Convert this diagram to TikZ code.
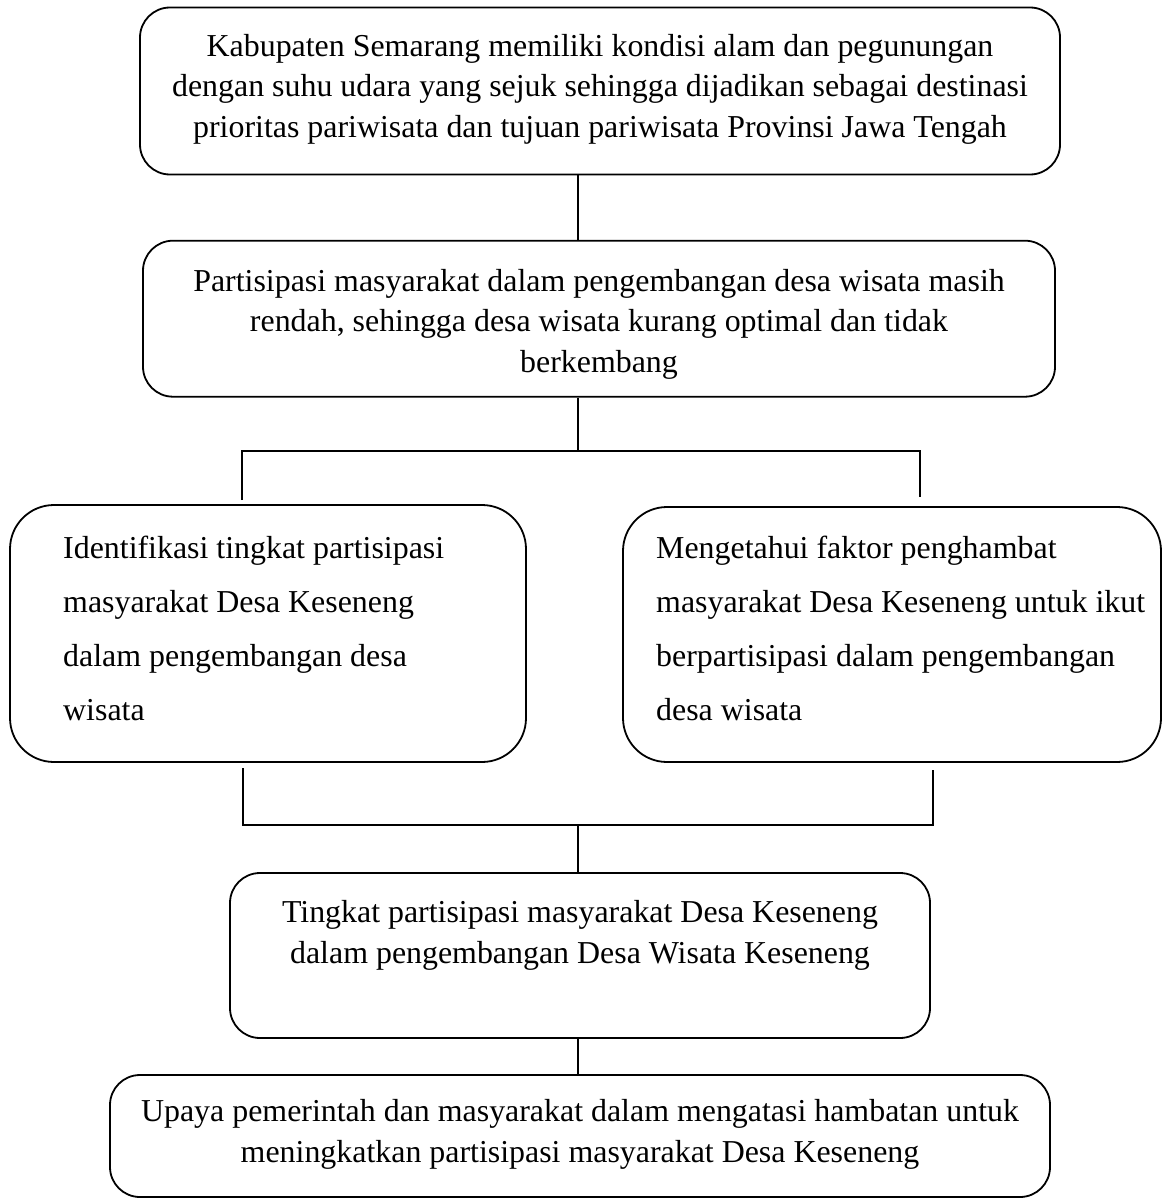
\documentclass[tikz,border=0pt]{standalone}
\usepackage{fontspec}
\setmainfont{Liberation Serif}
\begin{document}
\begin{tikzpicture}[x=1pt,y=-1pt,
  box/.style={draw, line width=1.8pt, inner sep=0pt, rounded corners=30pt},
  bigbox/.style={box, rounded corners=44pt},
  tcenter/.style={inner sep=0pt, align=center, anchor=base, font=\fontsize{31.9}{40.5}\selectfont},
  tleft/.style={inner sep=0pt, align=left, anchor=base west, font=\fontsize{31.9}{54}\selectfont},
  conn/.style={line width=1.8pt}]
\useasboundingbox (0,0) rectangle (1163,1199);
% boxes
\node[box, minimum width=920pt, minimum height=167pt] (b1) at (600,91) {};
\node[box, minimum width=912pt, minimum height=156pt] (b2) at (599,318.7) {};
\node[bigbox, minimum width=516pt, minimum height=257pt] (b3) at (268,633.5) {};
\node[bigbox, minimum width=538pt, minimum height=255pt] (b4) at (892,634.5) {};
\node[box, minimum width=700pt, minimum height=165pt] (b5) at (580,955.5) {};
\node[box, minimum width=940pt, minimum height=122pt] (b6) at (580,1136) {};
% texts (anchor base = baseline of the last line)
\node[tcenter] (t1) at (600,137) {Kabupaten Semarang memiliki kondisi alam dan pegunungan\\dengan suhu udara yang sejuk sehingga dijadikan sebagai destinasi\\prioritas pariwisata dan tujuan pariwisata Provinsi Jawa Tengah};
\node[tcenter] (t2) at (599,372) {Partisipasi masyarakat dalam pengembangan desa wisata masih\\rendah, sehingga desa wisata kurang optimal dan tidak\\berkembang};
\node[tleft] (t3) at (63,720) {Identifikasi tingkat partisipasi\\masyarakat Desa Keseneng\\dalam pengembangan desa\\wisata};
\node[tleft] (t4) at (656,720) {Mengetahui faktor penghambat\\masyarakat Desa Keseneng untuk ikut\\berpartisipasi dalam pengembangan\\desa wisata};
\node[tcenter] (t5) at (580,963) {Tingkat partisipasi masyarakat Desa Keseneng\\dalam pengembangan Desa Wisata Keseneng};
\node[tcenter] (t6) at (580,1162) {Upaya pemerintah dan masyarakat dalam mengatasi hambatan untuk\\meningkatkan partisipasi masyarakat Desa Keseneng};
% connector coordinates
\coordinate (cx) at (578,0);
\coordinate (hl) at (242,450.7);
\coordinate (hr) at (920,450.7);
\coordinate (sl) at (242,500);
\coordinate (sr) at (920,497);
\coordinate (ll) at (243,825);
\coordinate (lr) at (933,825);
\coordinate (ul) at (243,768);
\coordinate (ur) at (933,770);
% connectors
\draw[conn] (b1.south -| cx) -- (b2.north -| cx);
\draw[conn] (b2.south -| cx) -- (hl -| cx);
\draw[conn] (sl) -- (hl) -- (hr) -- (sr);
\draw[conn] (ul) -- (ll) -- (lr) -- (ur);
\draw[conn] (ll -| cx) -- (b5.north -| cx);
\draw[conn] (b5.south -| cx) -- (b6.north -| cx);
\end{tikzpicture}
\end{document}
